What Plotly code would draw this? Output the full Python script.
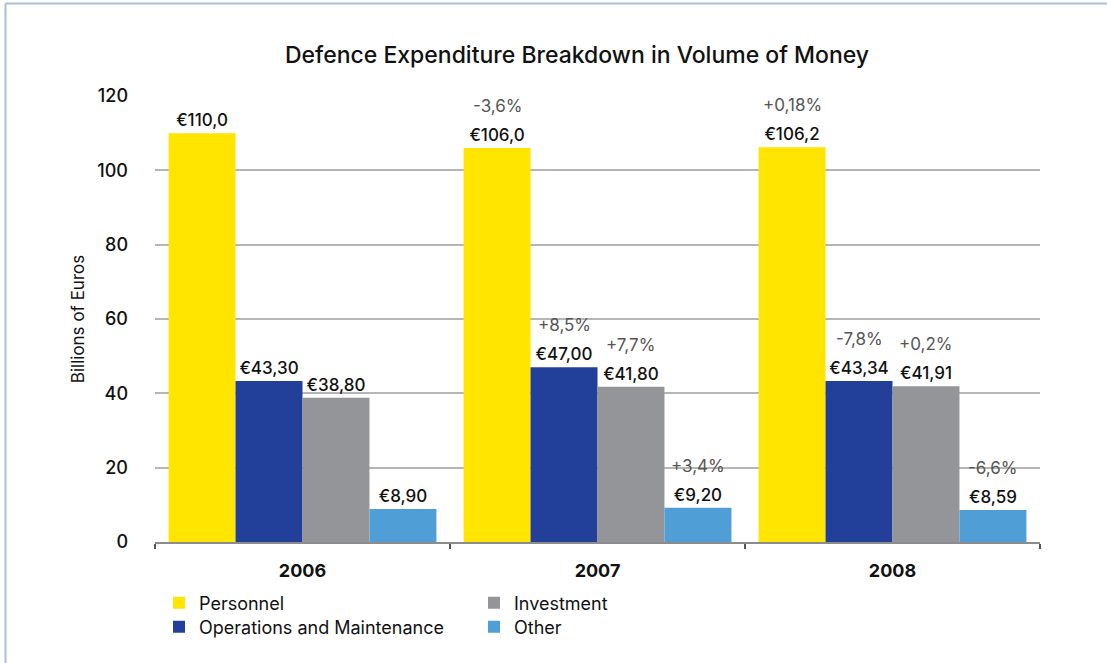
import plotly.graph_objects as go

years = ["2006", "2007", "2008"]
personnel = [110.0, 106.0, 106.2]
operations = [43.30, 47.00, 43.34]
investment = [38.80, 41.80, 41.91]
other = [8.90, 9.20, 8.59]

personnel_lbl = ["€110,0", "€106,0", "€106,2"]
operations_lbl = ["€43,30", "€47,00", "€43,34"]
investment_lbl = ["€38,80", "€41,80", "€41,91"]
other_lbl = ["€8,90", "€9,20", "€8,59"]

personnel_pct = ["", "-3,6%", "+0,18%"]
operations_pct = ["", "+8,5%", "-7,8%"]
investment_pct = ["", "+7,7%", "+0,2%"]
other_pct = ["", "+3,4%", "-6,6%"]

FONT = "Inter, Liberation Sans, Arial, sans-serif"

series = [
    ("Personnel", personnel, personnel_lbl, personnel_pct, "#FFE500", "legend"),
    ("Operations and Maintenance", operations, operations_lbl, operations_pct, "#224099", "legend2"),
    ("Investment", investment, investment_lbl, investment_pct, "#939598", "legend3"),
    ("Other", other, other_lbl, other_pct, "#4F9FD6", "legend4"),
]

W, H = 1107, 663
L, R, T, B = 155, 67, 96, 121
plot_w = W - L - R
plot_h = H - T - B
bargap = 0.092
bar_px = plot_w / len(years) * (1 - bargap) / len(series)

fig = go.Figure()
annotations = []
for i, (name, vals, lbls, pcts, color, lg) in enumerate(series):
    fig.add_trace(go.Bar(
        name=name, x=years, y=vals, marker=dict(color=color, line=dict(width=0)),
        text=lbls, textposition="outside", constraintext="none", cliponaxis=False,
        textfont=dict(family=FONT, size=17, color="#111111", weight=500),
        legend=lg, showlegend=True, hoverinfo="skip",
    ))
    shift = (i - (len(series) - 1) / 2) * bar_px
    for xi, (v, p) in enumerate(zip(vals, pcts)):
        if p:
            annotations.append(dict(
                x=xi, y=v, xref="x", yref="y", text=p, showarrow=False,
                xshift=shift, yshift=30, yanchor="bottom", xanchor="center",
                font=dict(family=FONT, size=17, color="#555555", weight=400),
            ))

# frame lines (left and top)
x_left = (5.5 - L) / plot_w
y_top = (H - B - 3.5) / plot_h
y_bot = -(B) / plot_h
x_right = (W - L) / plot_w
shapes = [
    dict(type="line", xref="paper", yref="paper", x0=x_left, x1=x_left, y0=y_bot, y1=y_top,
         line=dict(color="#A9BFD6", width=2)),
    dict(type="line", xref="paper", yref="paper", x0=x_left, x1=x_right, y0=y_top, y1=y_top,
         line=dict(color="#A9BFD6", width=2)),
]


def legend_at(px_x, px_y):
    return dict(orientation="v", x=(px_x - L) / plot_w, y=(H - B - px_y) / plot_h,
                xanchor="left", yanchor="middle", bgcolor="rgba(0,0,0,0)",
                font=dict(family=FONT, size=18, color="#111111"), tracegroupgap=0,
                itemclick=False, itemdoubleclick=False, visible=True)


fig.update_layout(
    width=W, height=H,
    margin=dict(l=L, r=R, t=T, b=B),
    paper_bgcolor="white", plot_bgcolor="white",
    showlegend=True,
    barmode="group", bargap=bargap, bargroupgap=0,
    font=dict(family=FONT, color="#111111"),
    title=dict(text="Defence Expenditure Breakdown in Volume of Money",
               x=577 / W, xref="container", xanchor="center",
               y=1 - 55 / H, yref="container", yanchor="middle",
               font=dict(family=FONT, size=23, color="#111111", weight=500)),
    xaxis=dict(type="category", categoryorder="array", categoryarray=years,
               range=[-0.5, len(years) - 0.5], autorange=False,
               showline=True, linecolor="#8c8c8c", linewidth=2, ticks="outside",
               tickson="boundaries", ticklen=5, tickcolor="#555555", tickwidth=1.5,
               tickfont=dict(family=FONT, size=18, color="#111111", weight=700),
               ticklabelstandoff=11, showgrid=False),
    yaxis=dict(range=[0, 120], autorange=False, tickvals=[0, 20, 40, 60, 80, 100, 120], showgrid=True,
               gridcolor="#B5B5B5", gridwidth=1.5, zeroline=False, showline=False,
               tickfont=dict(family=FONT, size=18, color="#111111", weight=500),
               ticklabelstandoff=26,
               title=dict(text="Billions of Euros", standoff=8,
                          font=dict(family=FONT, size=17, color="#111111"))),
    legend=legend_at(159, 603),
    legend2=legend_at(159, 627),
    legend3=legend_at(474, 603),
    legend4=legend_at(474, 627),
    annotations=annotations,
    shapes=shapes,
)

fig.write_html("out.html", config={"displayModeBar": False},
               post_script="document.body.style.margin='0';")
